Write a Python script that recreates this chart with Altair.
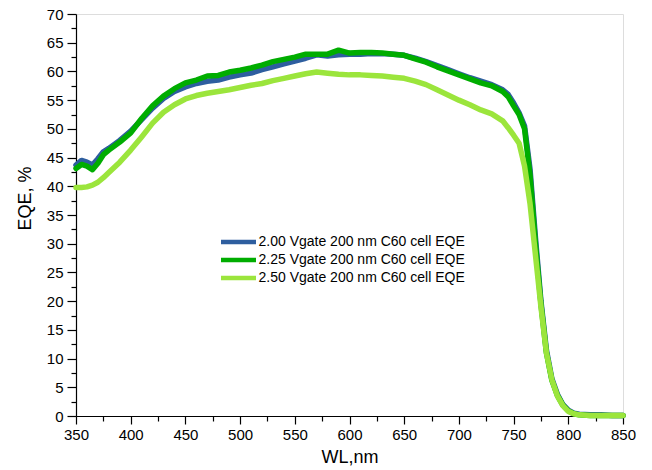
import altair as alt
import pandas as pd

wl = [350, 355, 360, 365, 370, 375, 380, 390, 400, 410, 420, 430, 440, 450, 460,
      470, 480, 490, 500, 510, 520, 530, 540, 550, 560, 570, 580, 590, 600, 610,
      620, 630, 640, 650, 660, 670, 680, 690, 700, 710, 720, 730, 740, 745, 750,
      755, 760, 765, 770, 775, 780, 785, 790, 795, 800, 805, 810, 820, 830, 840, 850]

eqe_200 = [43.7, 44.5, 44.2, 43.7, 44.8, 46.0, 46.6, 48.0, 49.6, 51.6, 53.6, 55.3, 56.5, 57.3, 57.9,
           58.3, 58.5, 59.0, 59.4, 59.7, 60.3, 60.8, 61.3, 61.8, 62.3, 62.9, 62.7, 62.9, 63.0, 63.0,
           63.1, 63.1, 63.0, 62.8, 62.3, 61.7, 61.0, 60.3, 59.6, 58.9, 58.3, 57.7, 56.8, 56.0, 54.5,
           52.8, 50.5, 43.0, 31.0, 20.0, 11.5, 6.5, 3.8, 2.0, 1.0, 0.5, 0.3, 0.2, 0.2, 0.1, 0.1]

eqe_225 = [43.1, 43.8, 43.5, 42.9, 44.0, 45.5, 46.3, 47.7, 49.3, 51.8, 54.0, 55.7, 57.0, 58.0, 58.5,
           59.2, 59.3, 59.9, 60.2, 60.6, 61.1, 61.7, 62.1, 62.5, 63.0, 63.0, 63.0, 63.7, 63.2, 63.3,
           63.3, 63.2, 63.0, 62.8, 62.2, 61.6, 60.8, 60.1, 59.4, 58.7, 58.0, 57.5, 56.5, 55.6, 54.0,
           52.5, 50.0, 42.0, 30.0, 19.5, 11.0, 6.2, 3.6, 1.9, 0.9, 0.4, 0.2, 0.1, 0.1, 0.1, 0.1]

eqe_250 = [39.8, 39.8, 39.9, 40.2, 40.7, 41.5, 42.4, 44.2, 46.3, 48.6, 51.0, 52.9, 54.2, 55.2, 55.8,
           56.2, 56.5, 56.8, 57.2, 57.6, 57.9, 58.4, 58.8, 59.2, 59.6, 59.9, 59.7, 59.5, 59.4, 59.4,
           59.3, 59.2, 59.0, 58.8, 58.3, 57.7, 56.8, 55.9, 55.0, 54.2, 53.3, 52.6, 51.4, 50.2, 48.9,
           47.5, 43.5, 37.0, 28.0, 19.0, 11.0, 6.3, 3.5, 1.8, 0.8, 0.4, 0.2, 0.1, 0.1, 0.1, 0.1]

series_names = ["2.00 Vgate 200 nm C60 cell EQE",
                "2.25 Vgate 200 nm C60 cell EQE",
                "2.50 Vgate 200 nm C60 cell EQE"]
series_colors = ["#2E5E9F", "#00AD00", "#9BE53C"]

x_ticks = list(range(350, 851, 25))
y_ticks = [i * 2.5 for i in range(0, 29)]

rows = []
for name, vals in zip(series_names, [eqe_200, eqe_225, eqe_250]):
    for w, v in zip(wl, vals):
        rows.append({"WL": w, "EQE": v, "Series": name})
df = pd.DataFrame(rows)

FONT = "Liberation Sans"

chart = alt.Chart(df).mark_line(strokeWidth=5.5, strokeJoin="round", strokeCap="round").encode(
    x=alt.X("WL:Q",
            scale=alt.Scale(domain=[350, 850], nice=False),
            axis=alt.Axis(title="WL,nm", values=x_ticks, grid=False,
                          labelExpr="datum.value % 50 === 0 ? datum.label : ''",
                          labelOverlap=False, labelFlush=False,
                          tickSize={"condition": {"test": "datum.value % 50 === 0", "value": 8}, "value": 5},
                          labelPadding=3, labelFontSize=15, labelFont=FONT, labelColor="#000",
                          titleFontSize=18, titleFont=FONT, titleFontWeight="normal", titleColor="#000",
                          titleY=32, titleBaseline="top",
                          domainColor="#000", tickColor="#000", domainWidth=1.2, tickWidth=1.2)),
    y=alt.Y("EQE:Q",
            scale=alt.Scale(domain=[0, 70], nice=False),
            axis=alt.Axis(title="EQE, %", values=y_ticks, grid=False,
                          labelExpr="datum.value % 5 === 0 ? datum.label : ''",
                          labelOverlap=False, labelFlush=False,
                          tickSize={"condition": {"test": "datum.value % 5 === 0", "value": 9}, "value": 5},
                          labelPadding=4, labelFontSize=15, labelFont=FONT, labelColor="#000",
                          titleFontSize=18, titleFont=FONT, titleFontWeight="normal", titleColor="#000",
                          titleX=-42, titleY=184,
                          domainColor="#000", tickColor="#000", domainWidth=1.2, tickWidth=1.2)),
    color=alt.Color("Series:N",
                    scale=alt.Scale(domain=series_names, range=series_colors),
                    legend=alt.Legend(title=None, orient="none", legendX=155.5, legendY=221,
                                      symbolType="M-4.375,0H4.375", symbolSize=64, symbolStrokeWidth=4.5,
                                      labelFontSize=14, labelFont=FONT, labelColor="#000",
                                      labelLimit=0, labelOffset=13, rowPadding=0, padding=0)),
).properties(
    width=547, height=402,
    padding={"left": 76, "top": 14, "right": 29, "bottom": 54},
    autosize="none",
).configure_view(stroke=None).configure(background="white")

chart.save("out.html", embed_options={"renderer": "svg", "actions": False})
